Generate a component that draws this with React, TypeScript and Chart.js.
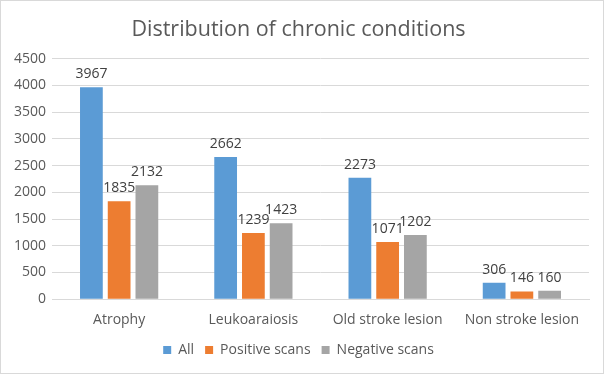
import React, { useEffect, useRef } from "react";
import { Chart, registerables } from "chart.js";

Chart.register(...registerables);

const categories = ["Atrophy", "Leukoaraiosis", "Old stroke lesion", "Non stroke lesion"];
const allValues = [3967, 2662, 2273, 306];
const positiveValues = [1835, 1239, 1071, 146];
const negativeValues = [2132, 1423, 1202, 160];
const seriesNames = ["All", "Positive scans", "Negative scans"];
const titleText = "Distribution of chronic conditions";

const FONT = "'Open Sans', 'Noto Sans', sans-serif";
const TEXT = "#595959";

const dataLabels = {
  id: "dataLabels",
  afterDatasetsDraw(chart: any) {
    const ctx = chart.ctx;
    ctx.save();
    ctx.font = `14px ${FONT}`;
    ctx.fillStyle = "#404040";
    ctx.textAlign = "center";
    ctx.textBaseline = "bottom";
    chart.data.datasets.forEach((ds: any, i: number) => {
      const meta = chart.getDatasetMeta(i);
      meta.data.forEach((bar: any, j: number) => {
        ctx.fillText(String(ds.data[j]), bar.x, bar.y - 6);
      });
    });
    ctx.restore();
  },
};

export default function App() {
  const ref = useRef<HTMLCanvasElement>(null);
  useEffect(() => {
    document.body.style.margin = "0";
    const chart = new Chart(ref.current!, {
      type: "bar",
      data: {
        labels: categories,
        datasets: [
          { label: seriesNames[0], data: allValues, backgroundColor: "#5b9bd5" },
          { label: seriesNames[1], data: positiveValues, backgroundColor: "#ed7d31" },
          { label: seriesNames[2], data: negativeValues, backgroundColor: "#a5a5a5" },
        ],
      },
      options: {
        responsive: false,
        animation: false,
        layout: { padding: { left: 7, right: 14, top: 6, bottom: 6 } },
        datasets: { bar: { categoryPercentage: 0.62, barPercentage: 0.82 } },
        plugins: {
          title: {
            display: true,
            text: titleText,
            color: TEXT,
            font: { family: FONT, size: 21.5, weight: "normal" },
            padding: { top: 10, bottom: 16 },
          },
          legend: {
            position: "bottom",
            labels: {
              color: TEXT,
              font: { family: FONT, size: 14 },
              boxWidth: 8,
              boxHeight: 8,
              padding: 11,
            },
          },
          tooltip: { enabled: false },
        },
        scales: {
          x: {
            grid: { display: false },
            border: { color: "#d9d9d9" },
            ticks: { color: TEXT, font: { family: FONT, size: 14 }, padding: 4 },
          },
          y: {
            min: 0,
            max: 4500,
            ticks: {
              stepSize: 500,
              color: TEXT,
              font: { family: FONT, size: 14 },
              padding: 6,
              callback: (v: any) => String(v),
            },
            grid: { color: "#d9d9d9", drawTicks: false },
            border: { display: false },
          },
        },
      },
      plugins: [dataLabels],
    });
    return () => chart.destroy();
  }, []);
  return (
    <div style={{ width: 604, height: 374, border: "1px solid #d9d9d9", boxSizing: "border-box" }}>
      <canvas ref={ref} width={602} height={372} />
    </div>
  );
}
